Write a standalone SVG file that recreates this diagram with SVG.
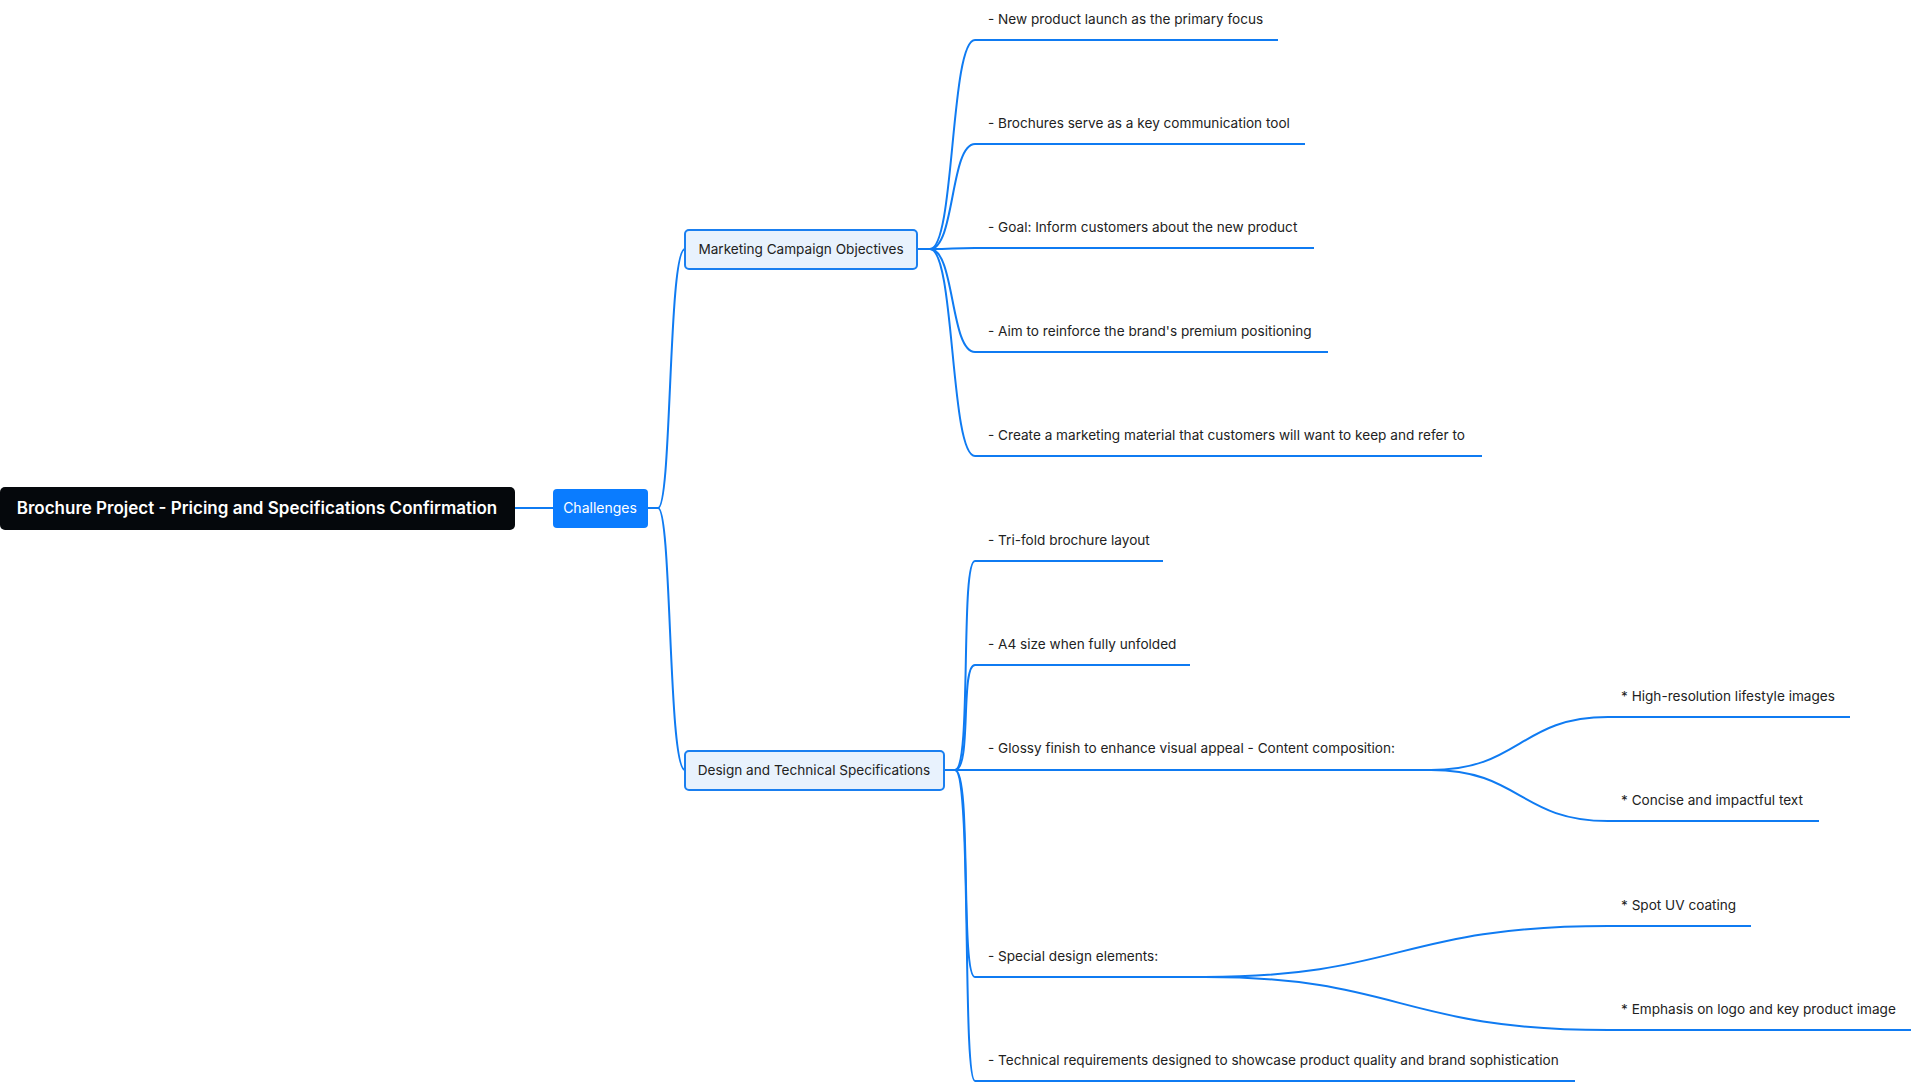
<svg xmlns="http://www.w3.org/2000/svg" width="1914" height="1084" viewBox="0 0 1914 1084">
<style>
.c{fill:none;stroke:#0f7bf2;stroke-width:2}
.t{font-family:Inter,"Liberation Sans",sans-serif;font-size:13.6px;fill:#222}
.n{fill:#e8f2fd;stroke:#1a7ff0;stroke-width:2}
</style>
<rect width="1914" height="1084" fill="#fff"/>
<g id="connectors">
<path class="c" d="M515 508H553"/>
<path class="c" d="M648 508H658C672 508 668 249 685 249"/>
<path class="c" d="M648 508H658C672 508 668 770 685 770"/>
<path class="c" d="M917 249H930C955 249 950 40 975 40H1278"/>
<path class="c" d="M917 249H930C955 249 950 144 975 144H1305"/>
<path class="c" d="M917 249H930C955 249 950 248 975 248H1314"/>
<path class="c" d="M917 249H930C955 249 950 352 975 352H1328"/>
<path class="c" d="M917 249H930C955 249 950 456 975 456H1482"/>
<path class="c" d="M944 770H955C972 770 960 561 975 561H1163"/>
<path class="c" d="M944 770H955C972 770 960 665 975 665H1190"/>
<path class="c" d="M944 770H1431"/>
<path class="c" d="M944 770H955C972 770 960 977 975 977H1205"/>
<path class="c" d="M944 770H955C972 770 962 1081 975 1081H1575"/>
<path class="c" d="M1431 770C1520 770 1520 717 1608 717H1850"/>
<path class="c" d="M1431 770C1520 770 1520 821 1608 821H1819"/>
<path class="c" d="M1205 977C1400 977 1400 926 1608 926H1751"/>
<path class="c" d="M1205 977C1400 977 1400 1030 1608 1030H1911"/>
</g>
<g id="root"><rect x="0" y="487" width="515" height="43" rx="5" fill="#05080c"/><text x="257" y="514" text-anchor="middle" font-family="Inter,'Liberation Sans',sans-serif" font-size="17" font-weight="600" fill="#fff">Brochure Project - Pricing and Specifications Confirmation</text></g>
<g id="challenges"><rect x="553" y="489" width="95" height="39" rx="4" fill="#0a7cff"/><text x="600" y="513" text-anchor="middle" font-family="Inter,'Liberation Sans',sans-serif" font-size="14" fill="#fff">Challenges</text></g>
<g id="marketing"><rect class="n" x="685" y="230" width="232" height="39" rx="4"/><text class="t" x="801" y="254" text-anchor="middle">Marketing Campaign Objectives</text></g>
<g id="design"><rect class="n" x="685" y="751" width="259" height="39" rx="4"/><text class="t" x="814" y="775" text-anchor="middle">Design and Technical Specifications</text></g>
<g id="leaves">
<text class="t" x="988" y="24">- New product launch as the primary focus</text>
<text class="t" x="988" y="128">- Brochures serve as a key communication tool</text>
<text class="t" x="988" y="232">- Goal: Inform customers about the new product</text>
<text class="t" x="988" y="336">- Aim to reinforce the brand's premium positioning</text>
<text class="t" x="988" y="440">- Create a marketing material that customers will want to keep and refer to</text>
<text class="t" x="988" y="545">- Tri-fold brochure layout</text>
<text class="t" x="988" y="649">- A4 size when fully unfolded</text>
<text class="t" x="988" y="753">- Glossy finish to enhance visual appeal - Content composition:</text>
<text class="t" x="988" y="961">- Special design elements:</text>
<text class="t" x="988" y="1065">- Technical requirements designed to showcase product quality and brand sophistication</text>
<text class="t" x="1621" y="701">* High-resolution lifestyle images</text>
<text class="t" x="1621" y="805">* Concise and impactful text</text>
<text class="t" x="1621" y="910">* Spot UV coating</text>
<text class="t" x="1621" y="1014">* Emphasis on logo and key product image</text>
</g>
</svg>
